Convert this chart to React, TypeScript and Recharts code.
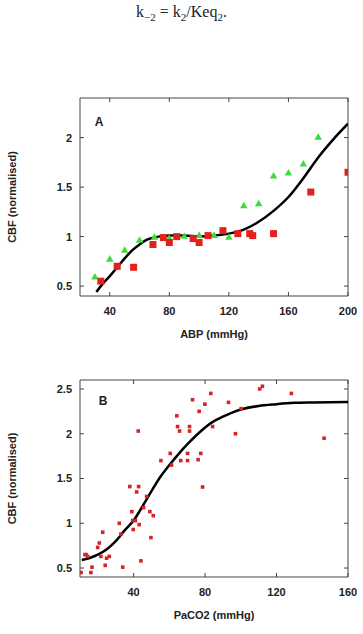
import React from 'react';
import { ComposedChart, Scatter, Line, XAxis, YAxis, ReferenceArea } from 'recharts';

// panel A: CBF vs ABP
const abpTicks = [40, 80, 120, 160, 200];
const cbfTicksA = [0.5, 1, 1.5, 2];

const abpGreen = [30, 40, 50, 60, 70, 80, 90, 100, 110, 120, 130, 140, 150, 160, 170, 180];
const cbfGreen = [0.6, 0.78, 0.87, 0.97, 1.0, 0.99, 1.01, 1.02, 1.02, 1.0, 1.32, 1.34, 1.62, 1.65, 1.74, 2.01];

const abpRed = [34, 45, 56, 69, 76, 80, 85, 96, 100, 106, 116, 126, 134, 136, 150, 175, 200];
const cbfRed = [0.55, 0.7, 0.69, 0.92, 0.99, 0.94, 1.0, 0.98, 0.94, 1.01, 1.06, 1.03, 1.03, 1.01, 1.03, 1.45, 1.65];

const abpFit = [31, 35, 40, 45, 50, 55, 60, 65, 70, 80, 90, 100, 110, 120, 130, 140, 150, 160, 170, 180, 190, 200];
const cbfFitA = [0.44, 0.52, 0.6, 0.69, 0.78, 0.86, 0.92, 0.97, 0.99, 1.01, 1.01, 1.0, 1.01, 1.03, 1.07, 1.15, 1.26, 1.4, 1.59, 1.8, 1.98, 2.14];

// panel B: CBF vs PaCO2
const paco2Ticks = [40, 80, 120, 160];
const cbfTicksB = [0.5, 1, 1.5, 2, 2.5];

const paco2Obs = [
  10.6, 16.1, 16.7, 13.4, 14.3, 19.9, 20.8, 22.7, 21.7, 24.1, 24.9, 26.4, 33.9, 32, 32.9,
  37.9, 39, 39.5, 39.8, 41, 41.7, 42.6, 42.8, 43.1, 44.1, 45.6, 47.3, 49.1, 49.7, 51,
  55.3, 60.5, 61.2, 64.2, 64.6, 65.7, 66.4, 70.2, 70.2, 71.3, 71.3, 73, 76.1, 76.7, 77.6,
  78.6, 79.9, 83.2, 84.2, 93.1, 97, 100.2, 110.6, 112.1, 128.3, 146.6, 12.8,
];
const cbfObs = [
  0.45, 0.45, 0.51, 0.65, 0.63, 0.73, 0.78, 0.9, 0.63, 0.53, 0.61, 0.63, 0.51, 1.0, 0.88,
  1.41, 1.13, 1.03, 0.93, 1.03, 1.35, 2.03, 1.41, 0.985, 0.58, 1.175, 1.3, 1.13, 0.84, 1.085,
  1.7, 1.78, 1.65, 2.2, 2.08, 2.03, 1.7, 1.7, 1.78, 2.08, 2.03, 2.38, 1.71, 2.25, 1.78,
  1.405, 2.33, 2.45, 2.08, 2.35, 2.0, 2.28, 2.5, 2.53, 2.45, 1.95, 0.65,
];

const paco2Fit = [11, 15, 20, 25, 30, 35, 40, 45, 50, 55, 60, 65, 70, 75, 80, 85, 90, 100, 110, 120, 130, 140, 160];
const cbfFitB = [0.59, 0.61, 0.65, 0.71, 0.8, 0.92, 1.03, 1.19, 1.36, 1.52, 1.65, 1.77, 1.88, 1.98, 2.07, 2.14, 2.19, 2.27, 2.31, 2.33, 2.345, 2.35, 2.355];

const toPoints = (xs: number[], ys: number[]) => xs.map((x, i) => ({ x, y: ys[i] }));

const FONT = '"Liberation Sans", Arial, sans-serif';
const FRAME = '#444';
const labelStyle = { fontSize: 11, fontWeight: 700, fill: '#222', fontFamily: FONT };

const W = 363;
const PLOT_LEFT = 80;
const PLOT_RIGHT = 348;
const TICK = 4;

// gnuplot draws inward ticks on both sides of the box, so the tick renderers do that too
const makeXTick = (top: number, bottom: number) => (props: any) => {
  const { x, y, payload } = props;
  return (
    <g>
      <line x1={x} x2={x} y1={bottom} y2={bottom - TICK} stroke={FRAME} />
      <line x1={x} x2={x} y1={top} y2={top + TICK} stroke={FRAME} />
      <text x={x} y={y} dy="0.71em" textAnchor="middle" style={labelStyle}>{payload.value}</text>
    </g>
  );
};

const makeYTick = () => (props: any) => {
  const { x, y, payload } = props;
  return (
    <g>
      <line x1={PLOT_LEFT} x2={PLOT_LEFT + TICK} y1={y} y2={y} stroke={FRAME} />
      <line x1={PLOT_RIGHT} x2={PLOT_RIGHT - TICK} y1={y} y2={y} stroke={FRAME} />
      <text x={x} y={y} dy="0.355em" textAnchor="end" style={labelStyle}>{payload.value}</text>
    </g>
  );
};

// marker shapes (ZAxis sizing did not take, so draw them directly around cx/cy)
const squareShape = (side: number, color: string) => (props: any) => (
  <rect x={props.cx - side / 2} y={props.cy - side / 2} width={side} height={side} fill={color} />
);

const triangleShape = (side: number, color: string) => (props: any) => {
  const { cx, cy } = props;
  const h = side * 0.87;
  return (
    <polygon
      points={`${cx - side / 2},${cy + h / 2} ${cx + side / 2},${cy + h / 2} ${cx},${cy - h / 2}`}
      fill={color}
    />
  );
};

export default function App() {
  const green = toPoints(abpGreen, cbfGreen);
  const red = toPoints(abpRed, cbfRed);
  const fitA = toPoints(abpFit, cbfFitA);
  const obsB = toPoints(paco2Obs, cbfObs);
  const fitB = toPoints(paco2Fit, cbfFitB);

  const sub = { fontSize: 11 };

  return (
    <div style={{ position: 'absolute', left: 0, top: 0, width: W, height: 634, background: '#fff' }}>
      <div style={{
        position: 'absolute', top: 3, left: 0, width: W, textAlign: 'center',
        fontFamily: '"Liberation Serif", "DejaVu Serif", serif', fontSize: 16, color: '#222',
      }}>
        k<sub style={sub}>{'\u2212'}2</sub> = k<sub style={sub}>2</sub>/Keq<sub style={sub}>2</sub>.
      </div>

      <div style={{ position: 'absolute', left: 0, top: 0 }}>
        <ComposedChart width={W} height={350} margin={{ top: 98, right: W - PLOT_RIGHT, bottom: 24, left: 8 }}>
          <XAxis dataKey="x" type="number" domain={[20, 200]} ticks={abpTicks} allowDataOverflow
            axisLine={false} tickLine={false} tickSize={0} tickMargin={11} height={30}
            tick={makeXTick(98, 296)}
            label={{ value: 'ABP (mmHg)', position: 'bottom', offset: 4, style: labelStyle }} />
          <YAxis dataKey="y" type="number" domain={[0.4, 2.4]} ticks={cbfTicksA} allowDataOverflow
            axisLine={false} tickLine={false} tickSize={0} tickMargin={8} width={72}
            tick={makeYTick()}
            label={{ value: 'CBF (normalised)', angle: -90, position: 'insideLeft', offset: 4, style: { ...labelStyle, textAnchor: 'middle' } }} />
          <ReferenceArea x1={20} x2={200} y1={0.4} y2={2.4} fill="none" stroke={FRAME} strokeWidth={1} ifOverflow="visible" />
          <Scatter data={green} shape={triangleShape(7.5, '#3ddc3a')} fill="#3ddc3a" isAnimationActive={false} />
          <Scatter data={red} shape={squareShape(7, '#e3211c')} fill="#e3211c" isAnimationActive={false} />
          <Line data={fitA} dataKey="y" type="monotone" stroke="#000" strokeWidth={2.5} dot={false} isAnimationActive={false} />
          <text x={99} y={125.5} textAnchor="middle" style={{ fontSize: 12, fontWeight: 700, fontFamily: FONT, fill: '#222' }}>A</text>
        </ComposedChart>
      </div>

      <div style={{ position: 'absolute', left: 0, top: 340 }}>
        <ComposedChart width={W} height={294} margin={{ top: 40, right: W - PLOT_RIGHT, bottom: 27, left: 8 }}>
          <XAxis dataKey="x" type="number" domain={[10, 160]} ticks={paco2Ticks} allowDataOverflow
            axisLine={false} tickLine={false} tickSize={0} tickMargin={11} height={30}
            tick={makeXTick(40, 237)}
            label={{ value: 'PaCO2 (mmHg)', position: 'bottom', offset: 4, style: labelStyle }} />
          <YAxis dataKey="y" type="number" domain={[0.4, 2.6]} ticks={cbfTicksB} allowDataOverflow
            axisLine={false} tickLine={false} tickSize={0} tickMargin={8} width={72}
            tick={makeYTick()}
            label={{ value: 'CBF (normalised)', angle: -90, position: 'insideLeft', offset: 4, style: { ...labelStyle, textAnchor: 'middle' } }} />
          <ReferenceArea x1={10} x2={160} y1={0.4} y2={2.6} fill="none" stroke={FRAME} strokeWidth={1} ifOverflow="visible" />
          <Scatter data={obsB} shape={squareShape(3.6, '#d42426')} fill="#d42426" isAnimationActive={false} />
          <Line data={fitB} dataKey="y" type="monotone" stroke="#000" strokeWidth={2.5} dot={false} isAnimationActive={false} />
          <text x={103} y={64.5} textAnchor="middle" style={{ fontSize: 12, fontWeight: 700, fontFamily: FONT, fill: '#222' }}>B</text>
        </ComposedChart>
      </div>
    </div>
  );
}
